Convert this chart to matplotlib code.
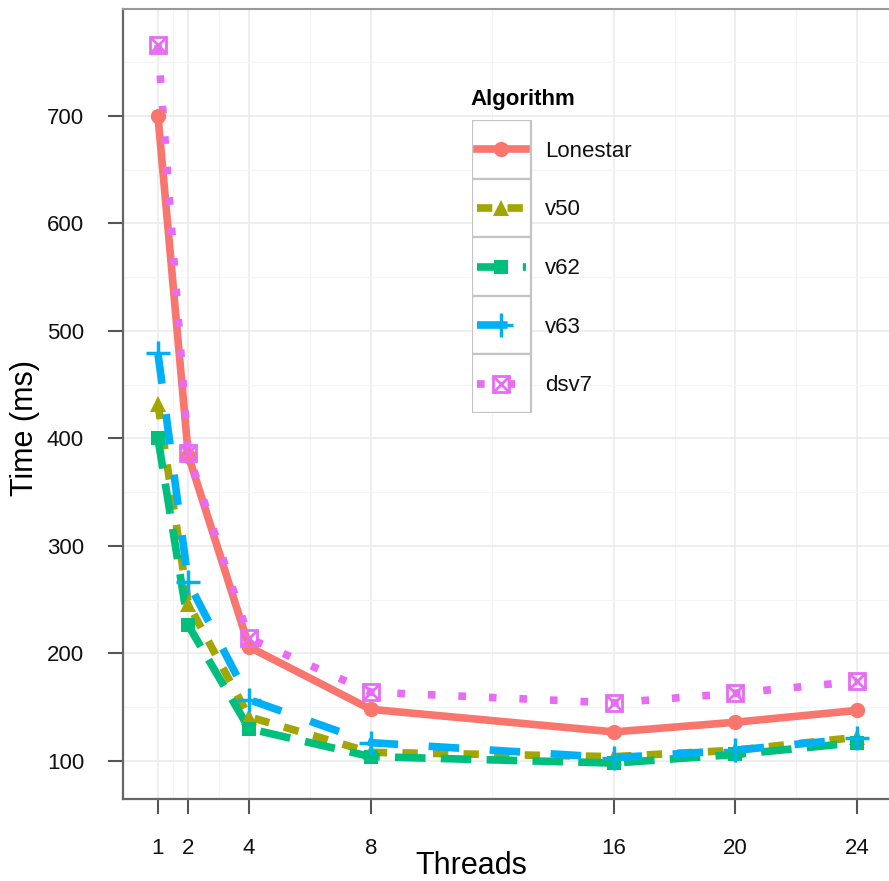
import matplotlib
matplotlib.use("Agg")
import matplotlib.pyplot as plt
from matplotlib.patches import Rectangle

plt.rcParams['font.family'] = ['Liberation Sans', 'DejaVu Sans']

# data
threads = [1, 2, 4, 8, 16, 20, 24]
algos = ["Lonestar", "v50", "v62", "v63", "dsv7"]
lonestar = [700, 384, 206, 148, 127, 136, 147]
v50 = [432, 246, 141, 108, 104, 110, 122]
v62 = [400, 226, 130, 104, 98, 106, 117]
v63 = [479, 266, 157, 117, 103, 110, 121]
dsv7 = [766, 386, 214, 164, 154, 163, 174]
series = [lonestar, v50, v62, v63, dsv7]

x_ticks = [1, 2, 4, 8, 16, 20, 24]
x_minor = [1.5, 3, 6, 12, 18, 22]
y_ticks = [100, 200, 300, 400, 500, 600, 700]
y_minor = [150, 250, 350, 450, 550, 650, 750]

colors = ["#F8766D", "#A3A500", "#00BF7D", "#00B0F6", "#E76BF3"]
dashes = ["-", (0, (2, 2)), (0, (4, 2)), (0, (4, 4)), (0, (1, 3))]
LW = 5.5

W, H = 889, 881
fig = plt.figure(figsize=(W / 100, H / 100), dpi=100)
ax = fig.add_axes([123 / W, 1 - 799 / H, (892 - 123) / W, (799 - 9) / H])

for ys, c, ls in zip(series, colors, dashes):
    ax.plot(threads, ys, color=c, lw=LW, linestyle=ls, dash_capstyle='butt', zorder=3)


def draw_marker(a, xs, ys, i, scale=1.0):
    c = colors[i]
    if i == 0:
        a.plot(xs, ys, 'o', color=c, ms=11 * scale, mew=0, zorder=4)
    elif i == 1:
        a.plot(xs, ys, '^', color=c, ms=11 * scale, mew=0, zorder=4)
    elif i == 2:
        a.plot(xs, ys, 's', color=c, ms=9.5 * scale, mew=0, zorder=4)
    elif i == 3:
        a.plot(xs, ys, '+', color=c, ms=17 * scale, mew=2.5, zorder=4)
    else:
        a.plot(xs, ys, 's', color=c, ms=11 * scale, mew=2, mfc='none', zorder=4)
        a.plot(xs, ys, 'x', color=c, ms=11 * scale, mew=2, zorder=4)


for i, ys in enumerate(series):
    draw_marker(ax, threads, ys, i)

ax.set_xlim(-0.15, 25.15)
ax.set_ylim(64.6, 799.4)
ax.set_xticks(x_ticks)
ax.set_xticks(x_minor, minor=True)
ax.set_yticks(y_ticks)
ax.set_yticks(y_minor, minor=True)
ax.grid(which='major', color='#EBEBEB', lw=1.2, zorder=0)
ax.grid(which='minor', color='#F4F4F4', lw=0.8, zorder=0)
ax.set_axisbelow(True)
ax.tick_params(which='major', length=11, width=1.5, color='#555555',
               labelsize=16, pad=17, labelcolor='#111111')
ax.tick_params(which='minor', length=0)

for s in ['left', 'bottom']:
    ax.spines[s].set_color('#666666')
    ax.spines[s].set_linewidth(1.6)
ax.spines['top'].set_color('#999999')
ax.spines['top'].set_linewidth(1.5)
ax.spines['right'].set_visible(False)

ax.set_xlabel("Threads", fontsize=22, va='center')
ax.set_ylabel("Time (ms)", fontsize=22, va='center')
ax.xaxis.set_label_coords((471 - 123) / (892 - 123), -(866 - 799) / (799 - 9))
ax.yaxis.set_label_coords(-(123 - 25) / (892 - 123), (799 - 428) / (799 - 9))

# legend with boxed keys
lax = fig.add_axes([472 / W, 1 - 413 / H, 170 / W, 293 / H])
lax.set_xlim(0, 170)
lax.set_ylim(293, 0)
lax.axis('off')
key_h = 293 / 5
for i, name in enumerate(algos):
    y0 = i * key_h
    lax.add_patch(Rectangle((0, y0), 59, key_h, facecolor='white',
                            edgecolor='#C4C4C4', lw=1.6, zorder=1))
    yc = y0 + key_h / 2
    lax.plot([5, 54], [yc, yc], color=colors[i], lw=LW, linestyle=dashes[i],
             dash_capstyle='butt', zorder=3)
    draw_marker(lax, [29.5], [yc], i)
    lax.text(73, yc + 2, name, fontsize=16, va='center', ha='left', color='#111111')
lax.text(-2, -20, "Algorithm", fontsize=16, fontweight='bold', va='center', ha='left')

fig.savefig("out.png", dpi=100)
